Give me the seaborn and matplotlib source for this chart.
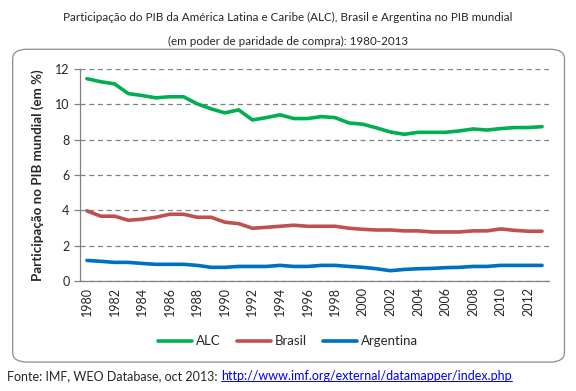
import numpy as np
import pandas as pd
import matplotlib.pyplot as plt
from matplotlib.patches import FancyBboxPatch
import seaborn as sns

# Dados (% do PIB mundial, PPC)
anos = list(range(1980, 2014))
alc = [11.44, 11.27, 11.15, 10.60, 10.49, 10.36, 10.42, 10.42, 10.02, 9.74,
       9.51, 9.68, 9.11, 9.24, 9.40, 9.19, 9.19, 9.30, 9.24, 8.94,
       8.87, 8.66, 8.43, 8.30, 8.41, 8.41, 8.41, 8.49, 8.60, 8.54,
       8.62, 8.68, 8.68, 8.73]
brasil = [3.97, 3.67, 3.67, 3.44, 3.50, 3.61, 3.78, 3.78, 3.61, 3.61,
          3.33, 3.25, 2.99, 3.04, 3.10, 3.16, 3.10, 3.10, 3.10, 2.99,
          2.93, 2.89, 2.89, 2.84, 2.84, 2.78, 2.78, 2.78, 2.84, 2.84,
          2.95, 2.87, 2.82, 2.82]
argentina = [1.17, 1.12, 1.06, 1.06, 1.00, 0.95, 0.95, 0.95, 0.89, 0.78,
             0.78, 0.83, 0.83, 0.83, 0.89, 0.83, 0.83, 0.89, 0.89, 0.83,
             0.78, 0.70, 0.59, 0.66, 0.70, 0.72, 0.76, 0.78, 0.83, 0.83,
             0.89, 0.89, 0.89, 0.89]
series = ["ALC", "Brasil", "Argentina"]
cores = {"ALC": "#00B050", "Brasil": "#C0504D", "Argentina": "#0070C0"}

dados = pd.DataFrame({"ano": anos, "ALC": alc, "Brasil": brasil, "Argentina": argentina})
longo = dados.melt(id_vars="ano", var_name="serie", value_name="valor")

sns.set_style("white")
plt.rcParams["font.family"] = ["Lato", "DejaVu Sans"]

fig = plt.figure(figsize=(5.76, 3.91), dpi=100)
ax = fig.add_axes([0.139, 0.281, 0.814, 0.543])

# moldura arredondada do gráfico
moldura = FancyBboxPatch((0.022, 0.074), 0.958, 0.80, boxstyle="round,pad=0,rounding_size=0.025",
                         transform=fig.transFigure, facecolor="white", edgecolor="#8c8c8c",
                         linewidth=0.9, zorder=-1)
fig.patches.append(moldura)

sns.lineplot(data=longo, x="ano", y="valor", hue="serie", hue_order=series,
             palette=cores, linewidth=2.6, ax=ax, legend=False)

ax.set_xlim(1979.5, 2013.5)
ax.set_ylim(0, 12)
ax.set_yticks(range(0, 13, 2))
ax.yaxis.grid(True, linestyle=(0, (4, 3)), color="#808080", linewidth=0.9)
ax.set_axisbelow(True)

ax.set_xticks(range(1980, 2013, 2))
ax.set_xticklabels([str(a) for a in range(1980, 2013, 2)], rotation=90)
ax.set_xticks(np.arange(1979.5, 2014, 1), minor=True)
ax.tick_params(axis="x", which="major", length=0, labelsize=9, pad=4)
ax.tick_params(axis="x", which="minor", length=4, color="#808080", width=0.9, direction="out")
ax.tick_params(axis="y", length=4, color="#808080", width=0.9, direction="out", labelsize=9, left=True)

for lado in ["top", "right"]:
    ax.spines[lado].set_visible(False)
for lado in ["left", "bottom"]:
    ax.spines[lado].set_color("#808080")
    ax.spines[lado].set_linewidth(0.9)

ax.set_xlabel("")
ax.set_ylabel("Participação no PIB mundial (em %)", fontsize=9.6, fontweight="bold", labelpad=8)

fig.text(0.5, 0.955, "Participação do PIB da América Latina e Caribe (ALC), Brasil e Argentina no PIB mundial",
         ha="center", va="center", fontsize=8.4)
fig.text(0.5, 0.893, "(em poder de paridade de compra): 1980-2013", ha="center", va="center", fontsize=8.4)

# legenda abaixo do eixo
handles = [plt.Line2D([], [], color=cores[s], linewidth=2.6) for s in series]
fig.legend(handles, series, loc="center", bbox_to_anchor=(0.5, 0.127), ncol=3, frameon=False,
           fontsize=9.5, handlelength=2.6, columnspacing=1.2, handletextpad=0.3)

fonte = fig.text(0.013, 0.038, "Fonte: IMF, WEO Database, oct 2013: ", ha="left", va="center", fontsize=9)
fig.canvas.draw()
r = fig.canvas.get_renderer()
bb = fonte.get_window_extent(r).transformed(fig.transFigure.inverted())
link = fig.text(bb.x1, 0.038, "http://www.imf.org/external/datamapper/index.php", ha="left", va="center",
                fontsize=9, color="#0000EE", url="http://www.imf.org/external/datamapper/index.php")
bl = link.get_window_extent(r).transformed(fig.transFigure.inverted())
fig.add_artist(plt.Line2D([bl.x0, bl.x1], [bl.y0 + 0.002, bl.y0 + 0.002], color="#0000EE", linewidth=0.7,
                          transform=fig.transFigure))

fig.savefig("out.png", dpi=100)
